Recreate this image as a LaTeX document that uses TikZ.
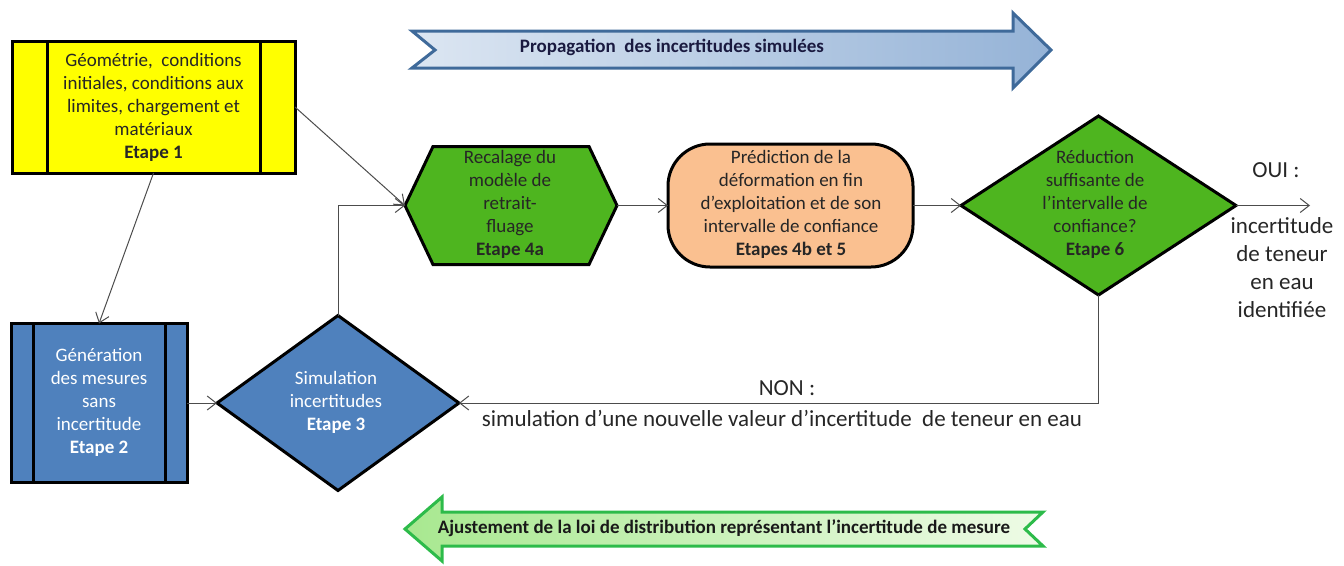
\documentclass[tikz,border=0pt]{standalone}
\usepackage{fontspec}
\setmainfont{Carlito}
\usetikzlibrary{shapes.geometric,arrows.meta}
\definecolor{yel}{HTML}{FFFF00}
\definecolor{grn}{HTML}{4EB51F}
\definecolor{blu}{HTML}{4F81BD}
\definecolor{peach}{HTML}{FAC090}
\definecolor{topborder}{HTML}{3F6A9A}
\definecolor{topleft}{HTML}{DCE6F2}
\definecolor{topright}{HTML}{95B3D7}
\definecolor{botborder}{HTML}{2DBB4A}
\definecolor{botleft}{HTML}{A8E890}
\definecolor{botright}{HTML}{EEFBE6}
\definecolor{navy}{HTML}{1A1A40}
\tikzset{
  shapebox/.style={draw=black, line width=3pt, inner sep=0pt, outer sep=0pt},
  txt/.style={align=center, font=\fontsize{19}{23}\selectfont, text=black!85, inner sep=0pt},
  wtxt/.style={txt, text=white},
  lbl/.style={align=center, font=\fontsize{23}{28}\selectfont, text=black!85, inner sep=0pt},
  bandtxt/.style={font=\bfseries\fontsize{19}{22}\selectfont, text=navy, inner sep=0pt},
  conn/.style={draw=black!70, line width=1pt, -{Straight Barb[length=9pt,width=14pt]}}
}
\begin{document}
\begin{tikzpicture}[x=1pt,y=-1pt]
\useasboundingbox (0,0) rectangle (1344,565);

% top band arrow
\draw[line width=3pt, draw=topborder, left color=topleft, right color=topright, line join=miter]
  (412,31) -- (1013,31) -- (1013,13) -- (1051,50) -- (1013,88) -- (1013,68) -- (412,68) -- (435,50) -- cycle;
\node[bandtxt] (toptxt) at (672,47) {Propagation~ des incertitudes simulées};

% bottom band arrow
\draw[line width=3pt, draw=botborder, left color=botleft, right color=botright, line join=miter]
  (405,529) -- (442,497) -- (442,512) -- (1043,512) -- (1025,529) -- (1043,546) -- (442,546) -- (442,561) -- cycle;
\node[bandtxt, text=black!90] (bottxt) at (724,528) {Ajustement de la loi de distribution représentant l’incertitude de mesure};

% Etape 1
\node[shapebox, fill=yel, minimum width=283pt, minimum height=132pt] (b1) at (153.5,107) {};
\draw[line width=3pt] ([xshift=35pt]b1.north west) -- ([xshift=35pt]b1.south west);
\draw[line width=3pt] ([xshift=-35pt]b1.north east) -- ([xshift=-35pt]b1.south east);
\node[txt] (t1) at (153.5,107) {Géométrie,~ conditions\\initiales, conditions aux\\limites, chargement et\\matériaux\\\textbf{Etape 1}};

% Etape 2
\node[shapebox, fill=blu, minimum width=176pt, minimum height=159pt] (b2) at (99,403) {};
\draw[line width=3pt] ([xshift=22pt]b2.north west) -- ([xshift=22pt]b2.south west);
\draw[line width=3pt] ([xshift=-22pt]b2.north east) -- ([xshift=-22pt]b2.south east);
\node[wtxt] (t2) at (99,402.5) {Génération\\des mesures\\sans\\incertitude\\\textbf{Etape 2}};

% Etape 3
\node[shapebox, diamond, fill=blu, minimum width=242pt, minimum height=175pt] (d3) at (338,403) {};
\node[wtxt] (t3) at (336,402.5) {Simulation\\incertitudes\\\textbf{Etape 3}};

% Etape 4a hexagon
\node[inner sep=0pt, outer sep=0pt, minimum width=212pt, minimum height=118pt] (hex) at (511,205.5) {};
\draw[shapebox, fill=grn] (hex.west) -- ([xshift=28pt]hex.north west) -- ([xshift=-28pt]hex.north east)
  -- (hex.east) -- ([xshift=-28pt]hex.south east) -- ([xshift=28pt]hex.south west) -- cycle;
\node[txt] (t4) at (510,204) {Recalage du\\modèle de\\retrait-\\fluage\\\textbf{Etape 4a}};

% Etapes 4b et 5
\node[shapebox, fill=peach, rounded corners=42pt, minimum width=245pt, minimum height=123pt] (rb) at (790.5,205.5) {};
\node[txt] (t5) at (791,204) {Prédiction de la\\déformation en fin\\d’exploitation et de son\\intervalle de confiance\\\textbf{Etapes 4b et 5}};

% Etape 6
\node[shapebox, diamond, fill=grn, minimum width=275pt, minimum height=179pt] (d6) at (1098.5,205.5) {};
\node[txt] (t6) at (1095,204) {Réduction\\suffisante de\\l’intervalle de\\confiance?\\\textbf{Etape 6}};

% connectors
\coordinate (oui) at (1310,205.5);
\draw[conn] (b1.east) -- (hex.west);
\draw[conn] (b1.south) -- (b2.north);
\draw[conn] (b2.east) -- (d3.west);
\draw[conn] (d3.north) |- (hex.west);
\draw[conn] (hex.east) -- (rb.west);
\draw[conn] (rb.east) -- (d6.west);
\draw[conn] (d6.east) -- (oui);
\draw[conn] (d6.south) |- (d3.east);

% labels
\node[lbl] (ouilbl) at (1276,170) {OUI :};
\node[lbl] (ouitxt) at (1282,268) {incertitude\\de teneur\\en eau\\identifiée};
\node[lbl] (nonlbl) at (787,388) {NON :};
\node[lbl] (nontxt) at (782,418) {simulation d’une nouvelle valeur d’incertitude~ de teneur en eau};
\end{tikzpicture}
\end{document}
